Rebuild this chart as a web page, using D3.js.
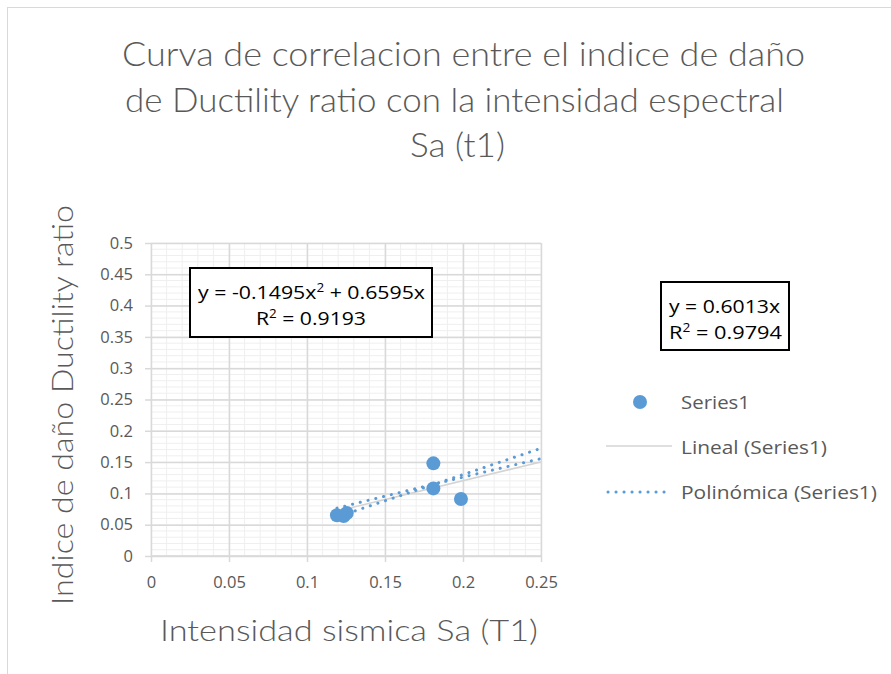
<!DOCTYPE html>
<html>
<head>
<meta charset="utf-8">
<script src="https://cdn.jsdelivr.net/npm/d3@7"></script>
<style>
  html, body { margin: 0; padding: 0; background: #fff; }
  svg { display: block; }
  text { font-family: "Open Sans", "Noto Sans", sans-serif; fill: #595959; }
  .thin { font-family: Lato, "Open Sans", sans-serif; font-weight: 300; }
</style>
</head>
<body>
<div id="chart"></div>
<script>
// Observed points: spectral intensity Sa(T1) vs Ductility-ratio damage index
const saValues = [0.1192, 0.1235, 0.1255, 0.181, 0.181, 0.1987];
const damageValues = [0.065, 0.064, 0.0685, 0.148, 0.108, 0.091];

// Trendline coefficients as printed on the chart
const linearSlope = 0.6013;
const linearR2 = 0.9794;
const polyA = -0.1495;
const polyB = 0.6595;
const polyR2 = 0.9193;
const trendRange = [0.1192, 0.25];

// Second dotted fit segment (start / end)
const extraFitX = [0.126, 0.25];
const extraFitY = [0.068, 0.172];

const xTicks = [0, 0.05, 0.1, 0.15, 0.2, 0.25];
const xTickLabels = ["0", "0.05", "0.1", "0.15", "0.2", "0.25"];
const yTicks = [0, 0.05, 0.1, 0.15, 0.2, 0.25, 0.3, 0.35, 0.4, 0.45, 0.5];
const yTickLabels = ["0", "0.05", "0.1", "0.15", "0.2", "0.25", "0.3", "0.35", "0.4", "0.45", "0.5"];
const minorStep = 0.01;

const titleLines = [
  "Curva de correlacion entre el indice de daño",
  "de Ductility ratio con la intensidad espectral",
  "Sa (t1)"
];
const xTitle = "Intensidad sismica Sa (T1)";
const yTitle = "Indice de daño Ductility ratio";
const legendLabels = ["Series1", "Lineal (Series1)", "Polinómica (Series1)"];

const W = 891, H = 674;
const blue = "#5b9bd5";
const plot = { left: 151, right: 541, top: 243, bottom: 556 };

const svg = d3.select("#chart").append("svg").attr("width", W).attr("height", H);

// chart frame
svg.append("rect").attr("x", 7.5).attr("y", 7.5).attr("width", W + 20).attr("height", H + 20)
  .attr("fill", "#fff").attr("stroke", "#d9d9d9").attr("stroke-width", 1);

const x = d3.scaleLinear().domain([0, 0.25]).range([plot.left, plot.right]);
const y = d3.scaleLinear().domain([0, 0.5]).range([plot.bottom, plot.top]);

// fit text to a given width, keeping its font size
function fit(sel, width) {
  sel.attr("textLength", width).attr("lengthAdjust", "spacingAndGlyphs");
  return sel;
}

// title
const titleWidths = [683, 659, 95];
const titleBase = [66, 112, 157];
const titleCx = [463.5, 454.5, 457.5];
titleLines.forEach((t, i) => {
  fit(svg.append("text").attr("class", "thin").attr("x", titleCx[i]).attr("y", titleBase[i])
    .attr("text-anchor", "middle").attr("font-size", 34)
    .text(t), titleWidths[i]);
});

// minor gridlines
const minorX = d3.range(0, 0.25 + 1e-9, minorStep).map(v => +v.toFixed(4));
const minorY = d3.range(0, 0.5 + 1e-9, minorStep).map(v => +v.toFixed(4));
const grid = svg.append("g");
grid.selectAll(".mx").data(minorX).join("line")
  .attr("x1", d => x(d)).attr("x2", d => x(d)).attr("y1", plot.top).attr("y2", plot.bottom)
  .attr("stroke", "#efefef").attr("stroke-width", 1);
grid.selectAll(".my").data(minorY).join("line")
  .attr("x1", plot.left).attr("x2", plot.right).attr("y1", d => y(d)).attr("y2", d => y(d))
  .attr("stroke", "#efefef").attr("stroke-width", 1);

// major gridlines via axes
svg.append("g").attr("transform", `translate(0,${plot.bottom})`)
  .call(d3.axisBottom(x).tickValues(xTicks).tickSize(-(plot.bottom - plot.top)).tickFormat(""))
  .call(g => g.select(".domain").remove())
  .call(g => g.selectAll("line").attr("stroke", "#d9d9d9").attr("stroke-width", 1.5));
svg.append("g").attr("transform", `translate(${plot.left},0)`)
  .call(d3.axisLeft(y).tickValues(yTicks).tickSize(-(plot.right - plot.left)).tickFormat(""))
  .call(g => g.select(".domain").remove())
  .call(g => g.selectAll("line").attr("stroke", "#d9d9d9").attr("stroke-width", 1.5));

// axes with outward ticks and labels
const xAxis = svg.append("g").attr("transform", `translate(0,${plot.bottom})`)
  .call(d3.axisBottom(x).tickValues(xTicks).tickSize(6).tickPadding(14)
    .tickFormat((d, i) => xTickLabels[i]));
xAxis.select(".domain").attr("stroke", "#d9d9d9").attr("stroke-width", 1.5)
  .attr("d", `M${plot.left},0H${plot.right}`);
xAxis.selectAll("line").attr("stroke", "#d9d9d9").attr("stroke-width", 1.5);
xAxis.selectAll("text").attr("font-size", 16.5).attr("fill", "#595959")
  .style("font-family", "'Open Sans', sans-serif");

const yAxis = svg.append("g").attr("transform", `translate(${plot.left},0)`)
  .call(d3.axisLeft(y).tickValues(yTicks).tickSize(6).tickPadding(12)
    .tickFormat((d, i) => yTickLabels[i]));
yAxis.select(".domain").remove();
yAxis.selectAll("line").attr("stroke", "#d9d9d9").attr("stroke-width", 1.5);
yAxis.selectAll("text").attr("font-size", 16.5).attr("fill", "#595959")
  .style("font-family", "'Open Sans', sans-serif");

// axis titles
fit(svg.append("text").attr("class", "thin").attr("x", 349).attr("y", 641).attr("text-anchor", "middle")
  .attr("font-size", 30).text(xTitle), 378);
fit(svg.append("text").attr("class", "thin").attr("transform", "translate(73,405) rotate(-90)")
  .attr("text-anchor", "middle").attr("font-size", 30)
  .text(yTitle), 400);

// trendlines, clipped to the plot
svg.append("clipPath").attr("id", "plotClip").append("rect")
  .attr("x", plot.left).attr("y", plot.top)
  .attr("width", plot.right - plot.left).attr("height", plot.bottom - plot.top);
const lines = svg.append("g").attr("clip-path", "url(#plotClip)");

const samples = d3.range(0, 41).map(i => trendRange[0] + (trendRange[1] - trendRange[0]) * i / 40);
const lineGen = d3.line().x(d => x(d[0])).y(d => y(d[1]));

lines.append("path")
  .attr("d", lineGen(trendRange.map(v => [v, linearSlope * v])))
  .attr("fill", "none").attr("stroke", "#d4d4d4").attr("stroke-width", 1.5);

const dotted = sel => sel.attr("fill", "none").attr("stroke", blue).attr("stroke-width", 3)
  .attr("stroke-linecap", "round").attr("stroke-dasharray", "0.1,7.9");

lines.append("path")
  .attr("d", lineGen(samples.map(v => [v, polyA * v * v + polyB * v])))
  .call(dotted);
lines.append("path")
  .attr("d", lineGen(extraFitX.map((v, i) => [v, extraFitY[i]])))
  .call(dotted);

// points
svg.append("g").selectAll("circle")
  .data(saValues.map((v, i) => [v, damageValues[i]]))
  .join("circle")
  .attr("cx", d => x(d[0])).attr("cy", d => y(d[1])).attr("r", 7)
  .attr("fill", blue);

// equation boxes
function eqBox(bx, by, bw, bh, rows) {
  const g = svg.append("g");
  g.append("rect").attr("x", bx).attr("y", by).attr("width", bw).attr("height", bh)
    .attr("fill", "#fff").attr("stroke", "#000").attr("stroke-width", 2);
  rows.forEach(r => {
    const t = g.append("text").attr("x", r.x).attr("y", r.y).attr("text-anchor", r.anchor)
      .attr("font-size", 19).style("fill", "#000");
    r.parts.forEach(p => {
      const ts = t.append("tspan").text(p.t);
      if (p.sup) ts.attr("font-size", 12).attr("dy", -7);
      else if (p.after) ts.attr("dy", 7);
    });
    fit(t, r.w);
  });
}

eqBox(190, 268, 242, 69, [
  { x: 311.5, y: 299, anchor: "middle", w: 227,
    parts: [{ t: `y = ${polyA}x` }, { t: "2", sup: true }, { t: ` + ${polyB}x`, after: true }] },
  { x: 311, y: 325, anchor: "middle", w: 110,
    parts: [{ t: "R" }, { t: "2", sup: true }, { t: ` = ${polyR2}`, after: true }] }
]);
eqBox(661, 282, 128, 68, [
  { x: 669, y: 313, anchor: "start", w: 111,
    parts: [{ t: `y = ${linearSlope}x` }] },
  { x: 669, y: 339, anchor: "start", w: 113,
    parts: [{ t: "R" }, { t: "2", sup: true }, { t: ` = ${linearR2}`, after: true }] }
]);

// legend
const leg = svg.append("g");
leg.append("circle").attr("cx", 640).attr("cy", 402).attr("r", 7).attr("fill", blue);
leg.append("line").attr("x1", 606).attr("x2", 672).attr("y1", 446).attr("y2", 446)
  .attr("stroke", "#d4d4d4").attr("stroke-width", 1.5);
leg.append("path").attr("d", "M608,492H672").call(dotted);
const legY = [409, 454, 499];
const legW = [69, 146, 196];
legendLabels.forEach((l, i) => {
  fit(leg.append("text").attr("x", 681).attr("y", legY[i]).attr("font-size", 17.5).text(l), legW[i]);
});
</script>
</body>
</html>
